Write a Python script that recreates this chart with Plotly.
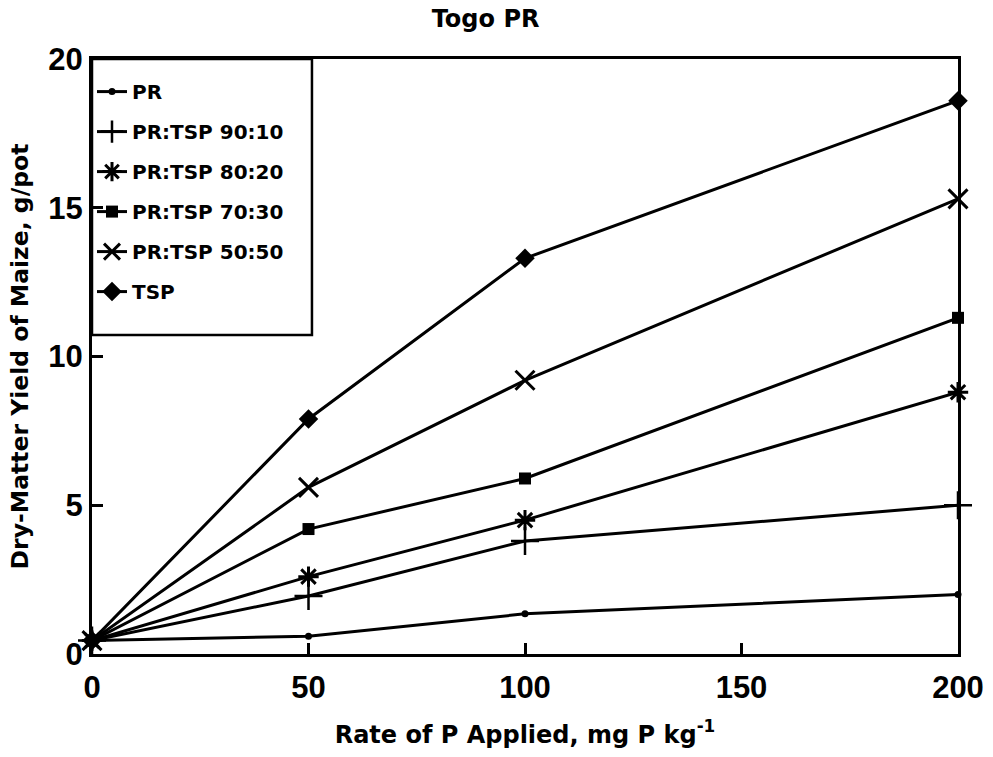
import plotly.graph_objects as go

rates = [0, 50, 100, 200]
pr = [0.45, 0.6, 1.35, 2.0]
pr_tsp_90_10 = [0.45, 1.95, 3.8, 5.0]
pr_tsp_80_20 = [0.45, 2.6, 4.5, 8.8]
pr_tsp_70_30 = [0.45, 4.2, 5.9, 11.3]
pr_tsp_50_50 = [0.45, 5.6, 9.2, 15.3]
tsp = [0.45, 7.9, 13.3, 18.6]

series_names = ["PR", "PR:TSP 90:10", "PR:TSP 80:20", "PR:TSP 70:30", "PR:TSP 50:50", "TSP"]
series_values = [pr, pr_tsp_90_10, pr_tsp_80_20, pr_tsp_70_30, pr_tsp_50_50, tsp]
x_ticks = [0, 50, 100, 150, 200]
y_ticks = [0, 5, 10, 15, 20]

marker_styles = [
    dict(symbol="circle", size=7, color="black"),
    dict(symbol="cross-thin-open", size=20, color="black", line=dict(width=2.5, color="black")),
    dict(symbol="asterisk-open", size=17, color="black", line=dict(width=3, color="black")),
    dict(symbol="square", size=12, color="black"),
    dict(symbol="x-thin-open", size=19, color="black", line=dict(width=3, color="black")),
    dict(symbol="diamond", size=15, color="black"),
]

FONT = "Liberation Sans, Arial, sans-serif"
WIDE = "DejaVu Sans, Verdana, sans-serif"

fig = go.Figure()
for i, (name, vals) in enumerate(zip(series_names, series_values)):
    fig.add_trace(go.Scatter(
        x=rates, y=vals, name=f"<b>{name}</b>", mode="lines+markers",
        line=dict(color="black", width=3),
        marker=marker_styles[i],
        legendgroup=f"g{i}",
        cliponaxis=False,
    ))

# legend frame (drawn as a box in the plot's paper coordinates)
fig.add_shape(type="rect", xref="paper", yref="paper",
              x0=0, x1=0.254, y0=0.536, y1=1,
              line=dict(color="black", width=2.5), fillcolor="white", layer="below")

fig.update_layout(
    width=993, height=757,
    margin=dict(l=92, r=35, t=59, b=103),
    paper_bgcolor="white", plot_bgcolor="white",
    font=dict(family=FONT, color="black"),
    title=dict(text="<b>Togo PR</b>", x=0.489, xanchor="center", y=0.976, yanchor="middle",
               font=dict(size=24, family=WIDE, color="black")),
    showlegend=True,
    legend=dict(
        x=0, y=0.978, xanchor="left", yanchor="top",
        bgcolor="rgba(0,0,0,0)", borderwidth=0,
        font=dict(size=20, family=WIDE, color="black"),
        traceorder="grouped", tracegroupgap=11,
        itemwidth=30,
    ),
    xaxis=dict(
        range=[0, 200], tickvals=x_ticks, ticktext=[f"<b>{v}</b>" for v in x_ticks],
        ticks="inside", ticklen=11, tickwidth=2.5, tickcolor="black",
        showline=True, linewidth=3, linecolor="black", mirror=True,
        showgrid=False, zeroline=False, automargin=False,
        tickfont=dict(size=31, family=FONT, color="black"),
        ticklabelstandoff=4,
        title=dict(text="<b>Rate of P Applied, mg P kg<sup>-1</sup></b>", standoff=22,
                   font=dict(size=24, family=WIDE, color="black")),
    ),
    yaxis=dict(
        range=[0, 20], tickvals=y_ticks, ticktext=[f"<b>{v}</b>" for v in y_ticks],
        ticks="inside", ticklen=11, tickwidth=2.5, tickcolor="black",
        showline=True, linewidth=3, linecolor="black", mirror=True,
        showgrid=False, zeroline=False, automargin=False,
        tickfont=dict(size=31, family=FONT, color="black"),
        ticklabelstandoff=0,
        title=dict(text="<b>Dry-Matter Yield of Maize, g/pot</b>", standoff=14,
                   font=dict(size=23.5, family=WIDE, color="black")),
    ),
)

fig.write_html("out.html")
